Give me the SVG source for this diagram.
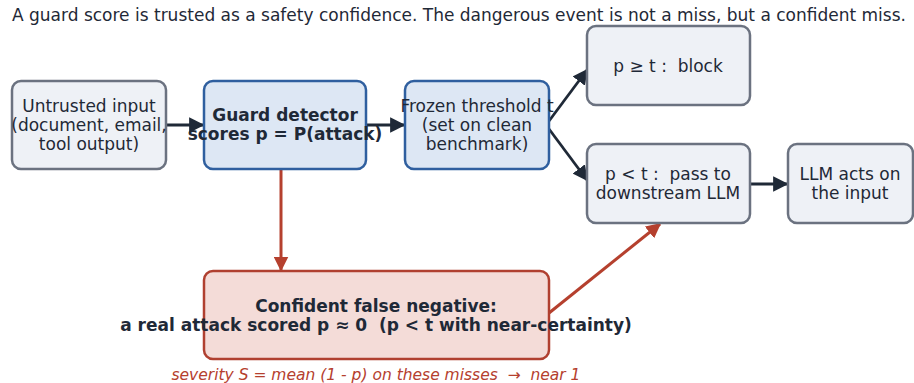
<svg xmlns="http://www.w3.org/2000/svg" width="914" height="383" viewBox="0 0 914 383">
<style>
text{font-family:"DejaVu Sans","Liberation Sans",sans-serif;fill:#1f2937;white-space:pre}
.n{font-size:17px;text-anchor:middle}
.b{font-weight:bold}
.gray{fill:#eef1f6;stroke:#6b7280;stroke-width:2.5}
.blue{fill:#dde7f4;stroke:#2f5f9f;stroke-width:2.5}
.red{fill:#f4dcd8;stroke:#b04030;stroke-width:2.5}
.c{fill:none;stroke:#1f2937;stroke-width:2.8}
.cr{fill:none;stroke:#b5402e;stroke-width:3}
</style>
<defs>
<marker id="ah" viewBox="0 0 10 10" refX="9" refY="5" markerWidth="5.5" markerHeight="5.5" markerUnits="strokeWidth" orient="auto"><path d="M0,0 L10,5 L0,10 z" fill="#1f2937"/></marker>
<marker id="ahr" viewBox="0 0 10 10" refX="9" refY="5" markerWidth="5" markerHeight="5" markerUnits="strokeWidth" orient="auto"><path d="M0,0 L10,5 L0,10 z" fill="#b5402e"/></marker>
</defs>
<rect width="914" height="383" fill="#ffffff"/>
<text x="12" y="21" font-size="17">A guard score is trusted as a safety confidence. The dangerous event is not a miss, but a confident miss.</text>
<g id="connectors">
<line class="c" x1="166" y1="125" x2="203" y2="125" marker-end="url(#ah)"/>
<line class="c" x1="366" y1="125" x2="404" y2="125" marker-end="url(#ah)"/>
<line class="c" x1="549" y1="121" x2="587" y2="70" marker-end="url(#ah)"/>
<line class="c" x1="549" y1="129" x2="587" y2="180" marker-end="url(#ah)"/>
<line class="c" x1="750" y1="184" x2="787" y2="184" marker-end="url(#ah)"/>
<line class="cr" x1="281" y1="169" x2="281" y2="270" marker-end="url(#ahr)"/>
<line class="cr" x1="549" y1="313" x2="660" y2="224" marker-end="url(#ahr)"/>
</g>
<g id="untrusted">
<rect class="gray" x="12" y="81" width="154" height="88" rx="9"/>
<text class="n" x="89" y="112">Untrusted input</text>
<text class="n" x="89" y="131">(document, email,</text>
<text class="n" x="89" y="150">tool output)</text>
</g>
<g id="guard">
<rect class="blue" x="204" y="81" width="162" height="88" rx="9"/>
<text class="n b" x="285" y="121">Guard detector</text>
<text class="n b" x="285" y="140">scores p = P(attack)</text>
</g>
<g id="threshold">
<rect class="blue" x="405" y="81" width="144" height="88" rx="9"/>
<text class="n" x="477" y="112">Frozen threshold t</text>
<text class="n" x="477" y="131">(set on clean</text>
<text class="n" x="477" y="150">benchmark)</text>
</g>
<g id="block">
<rect class="gray" x="587" y="26" width="163" height="79" rx="9"/>
<text class="n" x="668" y="72">p ≥ t :  block</text>
</g>
<g id="pass">
<rect class="gray" x="587" y="144" width="163" height="79" rx="9"/>
<text class="n" x="668" y="180">p &lt; t :  pass to</text>
<text class="n" x="668" y="199">downstream LLM</text>
</g>
<g id="llm">
<rect class="gray" x="788" y="144" width="125" height="79" rx="9"/>
<text class="n" x="850" y="180">LLM acts on</text>
<text class="n" x="850" y="199">the input</text>
</g>
<g id="confident">
<rect class="red" x="204" y="271" width="345" height="88" rx="9"/>
<text class="n b" x="376" y="312">Confident false negative:</text>
<text class="n b" x="376" y="331">a real attack scored p ≈ 0  (p &lt; t with near-certainty)</text>
</g>
<text x="376" y="380" font-size="15.5" font-style="italic" text-anchor="middle" style="fill:#b5402e">severity S = mean (1 - p) on these misses  →  near 1</text>
</svg>
